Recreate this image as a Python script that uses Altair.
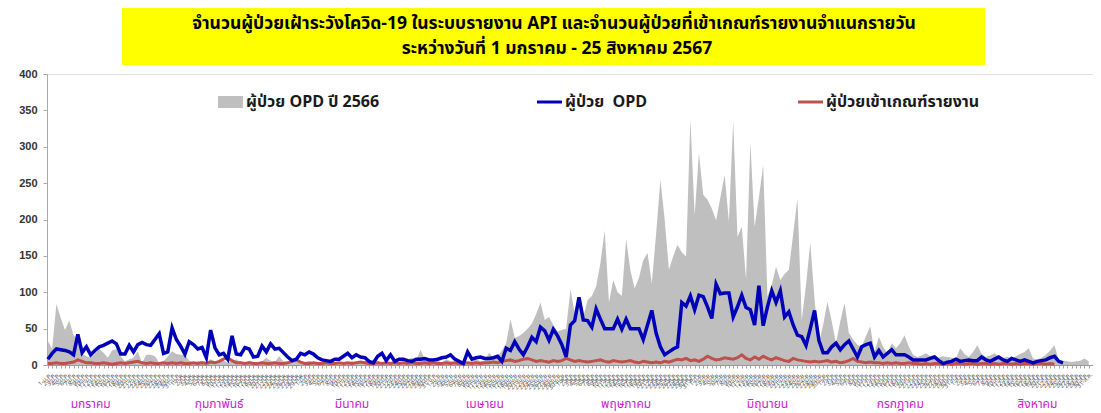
import altair as alt
import pandas as pd

# ---------------- data ----------------
TITLE_1 = "จำนวนผู้ป่วยเฝ้าระวังโควิด-19  ในระบบรายงาน API  และจำนวนผู้ป่วยที่เข้าเกณฑ์รายงานจำแนกรายวัน"
TITLE_2 = "ระหว่างวันที่ 1 มกราคม -  25 สิงหาคม 2567"

SERIES_NAMES = ["ผู้ป่วย OPD ปี 2566", "ผู้ป่วย\u00a0\u00a0OPD", "ผู้ป่วยเข้าเกณฑ์รายงาน"]

MONTH_NAMES = ["มกราคม", "กุมภาพันธ์", "มีนาคม", "เมษายน",
               "พฤษภาคม", "มิถุนายน", "กรกฎาคม", "สิงหาคม"]
MONTH_LABEL_DAY = [11, 41, 72, 103, 136, 169, 200, 232]
MONTH_ABBR = ["ม.ค.", "ก.พ.", "มี.ค.", "เม.ย.", "พ.ค.", "มิ.ย.", "ก.ค.", "ส.ค."]

# OPD 2566 (previous year), daily, 1 Jan - 31 Aug
opd_2566 = [
    33, 22, 84, 65, 48, 61, 41, 35, 15, 12,
    10, 15, 22, 17, 10, 20, 22, 12, 5, 8,
    10, 19, 3, 14, 14, 12, 3, 5, 12, 19,
    15, 14, 14, 6, 3, 5, 6, 4, 8, 5,
    4, 6, 3, 5, 8, 4, 3, 6, 4, 3,
    5, 10, 6, 4, 12, 5, 3, 4, 6, 3,
    4, 6, 3, 2, 4, 3, 5, 2, 3, 4,
    3, 5, 2, 4, 6, 3, 2, 5, 3, 4,
    3, 6, 4, 3, 8, 10, 6, 21, 8, 5,
    4, 6, 3, 8, 5, 4, 3, 6, 4, 5,
    8, 5, 6, 17, 10, 12, 20, 30, 63, 37,
    40, 44, 50, 57, 70, 86, 62, 66, 55, 46,
    48, 50, 104, 71, 81, 66, 89, 95, 108, 140,
    185, 86, 117, 100, 95, 173, 130, 105, 120, 144,
    154, 112, 180, 255, 200, 131, 150, 165, 155, 149,
    338, 206, 291, 234, 227, 215, 199, 230, 261, 197,
    336, 176, 190, 118, 306, 190, 230, 275, 94, 110,
    135, 117, 125, 131, 180, 229, 62, 110, 168, 90,
    30, 55, 87, 60, 30, 60, 85, 44, 35, 28,
    25, 40, 53, 18, 39, 25, 16, 30, 23, 30,
    41, 25, 14, 11, 13, 16, 12, 14, 10, 12,
    11, 10, 9, 23, 15, 11, 18, 27, 15, 11,
    13, 16, 12, 10, 11, 9, 12, 15, 18, 23,
    9, 8, 10, 14, 20, 27, 7, 6, 5, 4,
    5, 6, 9, 5,
]

# OPD 2567, daily, 1 Jan - 25 Aug
opd_2567 = [
    8, 16, 22, 21, 20, 18, 14, 42, 17, 25,
    14, 20, 25, 27, 30, 33, 29, 15, 15, 27,
    18, 28, 31, 28, 27, 35, 43, 16, 18, 51,
    35, 26, 15, 32, 28, 22, 24, 10, 48, 24,
    14, 16, 8, 40, 15, 14, 24, 22, 11, 12,
    26, 18, 29, 22, 23, 17, 11, 6, 8, 16,
    14, 18, 15, 10, 7, 6, 5, 8, 8, 12,
    16, 10, 14, 11, 10, 5, 3, 12, 16, 6,
    14, 5, 8, 8, 6, 5, 8, 8, 9, 7,
    7, 8, 10, 11, 14, 8, 5, 2, 18, 8,
    10, 11, 9, 9, 10, 12, 5, 23, 20, 32,
    22, 14, 25, 38, 32, 52, 47, 34, 49, 40,
    28, 11, 55, 61, 93, 62, 61, 52, 77, 63,
    50, 50, 50, 63, 49, 63, 50, 50, 50, 35,
    55, 75, 44, 25, 14, 18, 22, 25, 86, 81,
    95, 76, 96, 94, 80, 64, 111, 98, 99, 99,
    66, 80, 96, 79, 76, 55, 109, 54, 80, 102,
    86, 102, 66, 73, 55, 41, 39, 27, 50, 75,
    34, 17, 17, 25, 30, 21, 28, 33, 22, 11,
    25, 28, 30, 11, 20, 11, 16, 21, 14, 14,
    14, 11, 7, 7, 7, 7, 9, 11, 6, 2,
    4, 5, 8, 5, 6, 7, 6, 6, 11, 7,
    5, 8, 11, 7, 5, 9, 7, 5, 7, 5,
    3, 5, 6, 7, 10, 12, 5, 3,
]

# patients meeting reporting criteria, daily, 1 Jan - 25 Aug
reported = [
    2, 2, 3, 2, 2, 3, 4, 7, 5, 3,
    3, 2, 2, 3, 2, 1, 2, 3, 2, 3,
    4, 5, 3, 2, 3, 2, 2, 3, 2, 3,
    2, 3, 2, 2, 3, 2, 3, 2, 4, 3,
    5, 8, 10, 6, 3, 3, 2, 3, 2, 2,
    3, 2, 2, 3, 2, 2, 3, 5, 7, 4,
    2, 2, 3, 2, 2, 3, 2, 2, 3, 2,
    3, 2, 3, 4, 3, 2, 2, 3, 2, 3,
    2, 3, 2, 3, 2, 3, 2, 2, 3, 2,
    3, 2, 2, 3, 2, 3, 2, 2, 3, 2,
    3, 2, 3, 3, 4, 3, 5, 6, 7, 5,
    6, 8, 9, 7, 5, 6, 5, 4, 6, 5,
    6, 9, 7, 5, 6, 5, 4, 5, 6, 7,
    5, 4, 6, 5, 4, 5, 6, 4, 3, 5,
    4, 3, 4, 3, 5, 4, 6, 8, 7, 9,
    6, 7, 5, 8, 12, 9, 7, 8, 10, 9,
    8, 10, 14, 9, 7, 11, 8, 12, 9, 7,
    10, 8, 6, 5, 9, 7, 6, 5, 4, 5,
    4, 5, 6, 4, 5, 3, 4, 6, 9, 5,
    4, 3, 4, 3, 3, 2, 3, 2, 3, 2,
    2, 3, 2, 2, 1, 2, 1, 2, 2, 1,
    2, 1, 2, 2, 1, 2, 2, 1, 2, 2,
    1, 2, 1, 2, 2, 1, 2, 1, 2, 2,
    1, 2, 2, 1, 2, 1,
]

Y_TICKS = [0, 50, 100, 150, 200, 250, 300, 350, 400]
X_TICKS = list(range(1, len(opd_2566) + 1))

# ---------------- tables ----------------
df_prev = pd.DataFrame({"day": range(1, len(opd_2566) + 1), "value": opd_2566})
df_opd = pd.DataFrame({"day": range(1, len(opd_2567) + 1), "value": opd_2567})
df_rep = pd.DataFrame({"day": range(1, len(reported) + 1), "value": reported})
df_month = pd.DataFrame({"day": MONTH_LABEL_DAY, "name": MONTH_NAMES})

FONT = "Noto Sans Thai, Tahoma, Liberation Sans, sans-serif"

x_scale = alt.Scale(domain=[0.8, 245], nice=False, zero=False)
y_scale = alt.Scale(domain=[0, 400], nice=False)

abbr = "[" + ",".join("'" + m + "'" for m in MONTH_ABBR) + "]"
label_expr = ("date(datetime(2024,0,datum.value)) + '-' + " + abbr +
              "[month(datetime(2024,0,datum.value))]")

x_axis = alt.Axis(values=X_TICKS, title=None, grid=False, labelExpr=label_expr,
                  labelAngle=315, labelOverlap=False)
y_axis = alt.Axis(values=Y_TICKS, title=None, grid=False, labelOverlap=False)

X = alt.X("day:Q", scale=x_scale, axis=x_axis)
Y = alt.Y("value:Q", scale=y_scale, axis=y_axis)

area = alt.Chart(df_prev).mark_area(color="#BFBFBF", opacity=1).encode(x=X, y=Y)
red = alt.Chart(df_rep).mark_line(color="#C0504D", strokeWidth=3).encode(x=X, y=Y)
blue = alt.Chart(df_opd).mark_line(color="#0000B8", strokeWidth=3.5).encode(x=X, y=Y)

months = alt.Chart(df_month).mark_text(color="#CC22CC", fontSize=12, font=FONT,
                                       align="center", baseline="middle").encode(
    x=X, y=alt.value(330), text="name:N")

# title box
title_box = alt.Chart(pd.DataFrame({"t": [TITLE_1]})).mark_rect(color="#FFFF00").encode(
    x=alt.value(75), x2=alt.value(938), y=alt.value(-68), y2=alt.value(-9))
title1 = alt.Chart(pd.DataFrame({"t": [TITLE_1]})).mark_text(
    fontSize=17.5, fontWeight="bold", font=FONT, color="#000000", align="center",
    baseline="middle").encode(x=alt.value(507), y=alt.value(-50), text="t:N")
title2 = alt.Chart(pd.DataFrame({"t": [TITLE_2]})).mark_text(
    fontSize=17.5, fontWeight="bold", font=FONT, color="#000000", align="center",
    baseline="middle").encode(x=alt.value(510), y=alt.value(-25), text="t:N")

# legend (drawn inside the plot, as in the original)
leg_gray = alt.Chart(pd.DataFrame({"t": [SERIES_NAMES[0]]})).mark_rect(color="#BFBFBF").encode(
    x=alt.value(171), x2=alt.value(196), y=alt.value(22), y2=alt.value(34))
leg_blue = alt.Chart(pd.DataFrame({"t": [SERIES_NAMES[1]]})).mark_rule(color="#0000B8", strokeWidth=3).encode(
    x=alt.value(490), x2=alt.value(515), y=alt.value(28))
leg_red = alt.Chart(pd.DataFrame({"t": [SERIES_NAMES[2]]})).mark_rule(color="#C0504D", strokeWidth=3).encode(
    x=alt.value(751), x2=alt.value(776), y=alt.value(28))


def leg_text(name, xpos):
    return alt.Chart(pd.DataFrame({"t": [name]})).mark_text(
        fontSize=16, fontWeight="bold", font=FONT, color="#1a1a1a", align="left",
        baseline="middle").encode(x=alt.value(xpos), y=alt.value(28), text="t:N")


chart = alt.layer(
    area, red, blue, months, title_box, title1, title2,
    leg_gray, leg_blue, leg_red,
    leg_text(SERIES_NAMES[0], 199), leg_text(SERIES_NAMES[1], 518), leg_text(SERIES_NAMES[2], 779),
).properties(
    width=1046, height=291,
    autosize=alt.AutoSizeParams(type="none"),
    padding={"left": 39, "top": 66, "right": 0, "bottom": 48},
).configure_view(stroke=None).configure(background="white").configure_axisX(
    domainColor="#999999", tickColor="#b0a0a0", tickSize=3, labelFontSize=6,
    labelColor="#555555", labelOverlap=False, labelPadding=3, labelFont=FONT,
    labelBound=False,
).configure_axisY(
    domainColor="#aaaaaa", tickColor="#aaaaaa", tickSize=4, labelFontSize=11,
    labelFontWeight="bold", labelColor="#333333", labelFont="Liberation Sans",
    labelPadding=6, labelOverlap=False,
)

chart.save("out.html", embed_options={"renderer": "svg", "actions": False})
